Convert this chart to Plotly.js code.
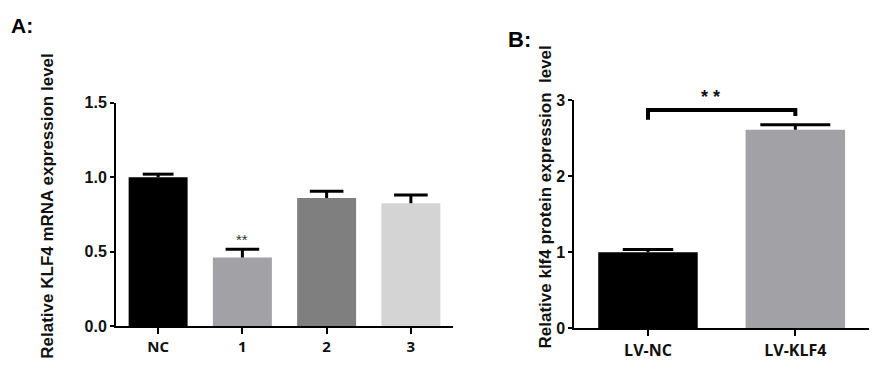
<!DOCTYPE html>
<html>
<head>
<meta charset="utf-8">
<script src="https://cdn.plot.ly/plotly-3.0.1.min.js"></script>
<style>html,body{margin:0;padding:0;background:#fff;}#chart{width:877px;height:388px;}</style>
</head>
<body>
<div id="chart"></div>
<script>
// Panel A data
const catsA = ['NC', '1', '2', '3'];
const valsA = [1.0, 0.46, 0.86, 0.825];
const errA = [0.02, 0.055, 0.045, 0.055];
const colorsA = ['#000000', '#a2a2a6', '#7f7f7f', '#d4d4d4'];
const ticksA = [0, 0.5, 1.0, 1.5];

// Panel B data
const catsB = ['LV-NC', 'LV-KLF4'];
const valsB = [1.0, 2.61];
const errB = [0.035, 0.065];
const colorsB = ['#000000', '#a2a2a6'];
const ticksB = [0, 1, 2, 3];
const bracketB = [2.74, 2.87, 2.87, 2.79];

// cap widths (px, full width) — style
const capA = [22, 24, 24, 24];
const capB = [36, 50];

const traces = [];
function addPanel(cats, vals, errs, colors, caps, barW, xa, ya) {
  cats.forEach((c, i) => {
    traces.push({
      type: 'bar', x: [c], y: [vals[i]], width: barW,
      marker: {color: colors[i], line: {width: 0}},
      error_y: {type: 'data', symmetric: false, array: [errs[i]], arrayminus: [0], color: '#000', thickness: 3, width: 0},
      xaxis: xa, yaxis: ya, showlegend: false, hoverinfo: 'skip'
    });
    traces.push({
      type: 'scatter', mode: 'markers', x: [c], y: [vals[i] + errs[i]],
      marker: {symbol: 'line-ew', size: caps[i], line: {color: '#000', width: 3}},
      xaxis: xa, yaxis: ya, showlegend: false, hoverinfo: 'skip', cliponaxis: false
    });
  });
}
addPanel(catsA, valsA, errA, colorsA, capA, 0.7, 'x', 'y');
addPanel(catsB, valsB, errB, colorsB, capB, 0.675, 'x2', 'y2');

traces.push({
  type: 'scatter', mode: 'lines',
  x: [catsB[0], catsB[0], catsB[1], catsB[1]], y: bracketB,
  line: {color: '#000', width: 4}, xaxis: 'x2', yaxis: 'y2', showlegend: false, hoverinfo: 'skip'
});

const tickFontY = {family: 'Arial, Liberation Sans, sans-serif', size: 16, color: '#111', weight: 'bold'};
const axCommon = {showgrid: false, zeroline: false, showline: true, linecolor: '#000', linewidth: 2,
  ticks: 'outside', tickcolor: '#000', tickwidth: 2, fixedrange: true};

const layout = {
  width: 877, height: 388,
  margin: {l: 0, r: 0, t: 0, b: 0},
  paper_bgcolor: '#fff', plot_bgcolor: '#fff',
  barmode: 'overlay',
  xaxis: Object.assign({}, axCommon, {domain: [116/877, 453/877], range: [-0.5, 3.5], type: 'category',
    ticklen: 6, tickfont: {family: 'Open Sans, sans-serif', size: 15, color: '#111', weight: 'bold'}, anchor: 'y'}),
  yaxis: Object.assign({}, axCommon, {domain: [1 - 326/388, 1 - 102.7/388], range: [0, 1.5],
    tickvals: ticksA, ticktext: ticksA.map(v => v.toFixed(1)), ticklen: 4, tickfont: tickFontY, anchor: 'x'}),
  xaxis2: Object.assign({}, axCommon, {domain: [574.3/877, 869/877], range: [-0.5, 1.5], type: 'category',
    ticklen: 6, tickfont: {family: 'Open Sans, sans-serif', size: 16, color: '#111', weight: 'bold'}, anchor: 'y2'}),
  yaxis2: Object.assign({}, axCommon, {domain: [1 - 328.3/388, 1 - 100/388], range: [0, 3],
    tickvals: ticksB, ticktext: ticksB.map(v => String(v)), ticklen: 4, tickfont: tickFontY, anchor: 'x2'}),
  annotations: [
    {text: 'A:', xref: 'paper', yref: 'paper', x: 9/877, y: 1 - 25.5/388, xanchor: 'left', yanchor: 'middle', showarrow: false,
     font: {family: 'Arial, sans-serif', size: 21, color: '#000', weight: 'bold'}},
    {text: 'B:', xref: 'paper', yref: 'paper', x: 506/877, y: 1 - 40/388, xanchor: 'left', yanchor: 'middle', showarrow: false,
     font: {family: 'Arial, sans-serif', size: 22, color: '#000', weight: 'bold'}},
    {text: 'Relative KLF4 mRNA expression level', xref: 'paper', yref: 'paper', x: 46.7/877, y: 1 - 206/388,
     textangle: -90, showarrow: false, xanchor: 'center', yanchor: 'middle',
     font: {family: 'Arial, sans-serif', size: 17, color: '#111', weight: 'bold'}},
    {text: 'Relative klf4 protein expression\u00a0 level', xref: 'paper', yref: 'paper', x: 545/877, y: 1 - 197.5/388,
     textangle: -90, showarrow: false, xanchor: 'center', yanchor: 'middle',
     font: {family: 'Arial, sans-serif', size: 17, color: '#111', weight: 'bold'}},
    {text: '**', xref: 'x', yref: 'y', x: catsA[1], y: valsA[1] + errA[1], yanchor: 'bottom', yshift: -1, showarrow: false,
     font: {family: 'Arial, sans-serif', size: 15, color: '#333'}},
    {text: '* *', xref: 'paper', yref: 'y2', x: 721.7/877, y: bracketB[1], yanchor: 'bottom', yshift: 1, showarrow: false,
     font: {family: 'Arial, sans-serif', size: 18, color: '#111', weight: 'bold'}}
  ]
};

Plotly.newPlot('chart', traces, layout, {staticPlot: true, displayModeBar: false});
</script>
</body>
</html>
